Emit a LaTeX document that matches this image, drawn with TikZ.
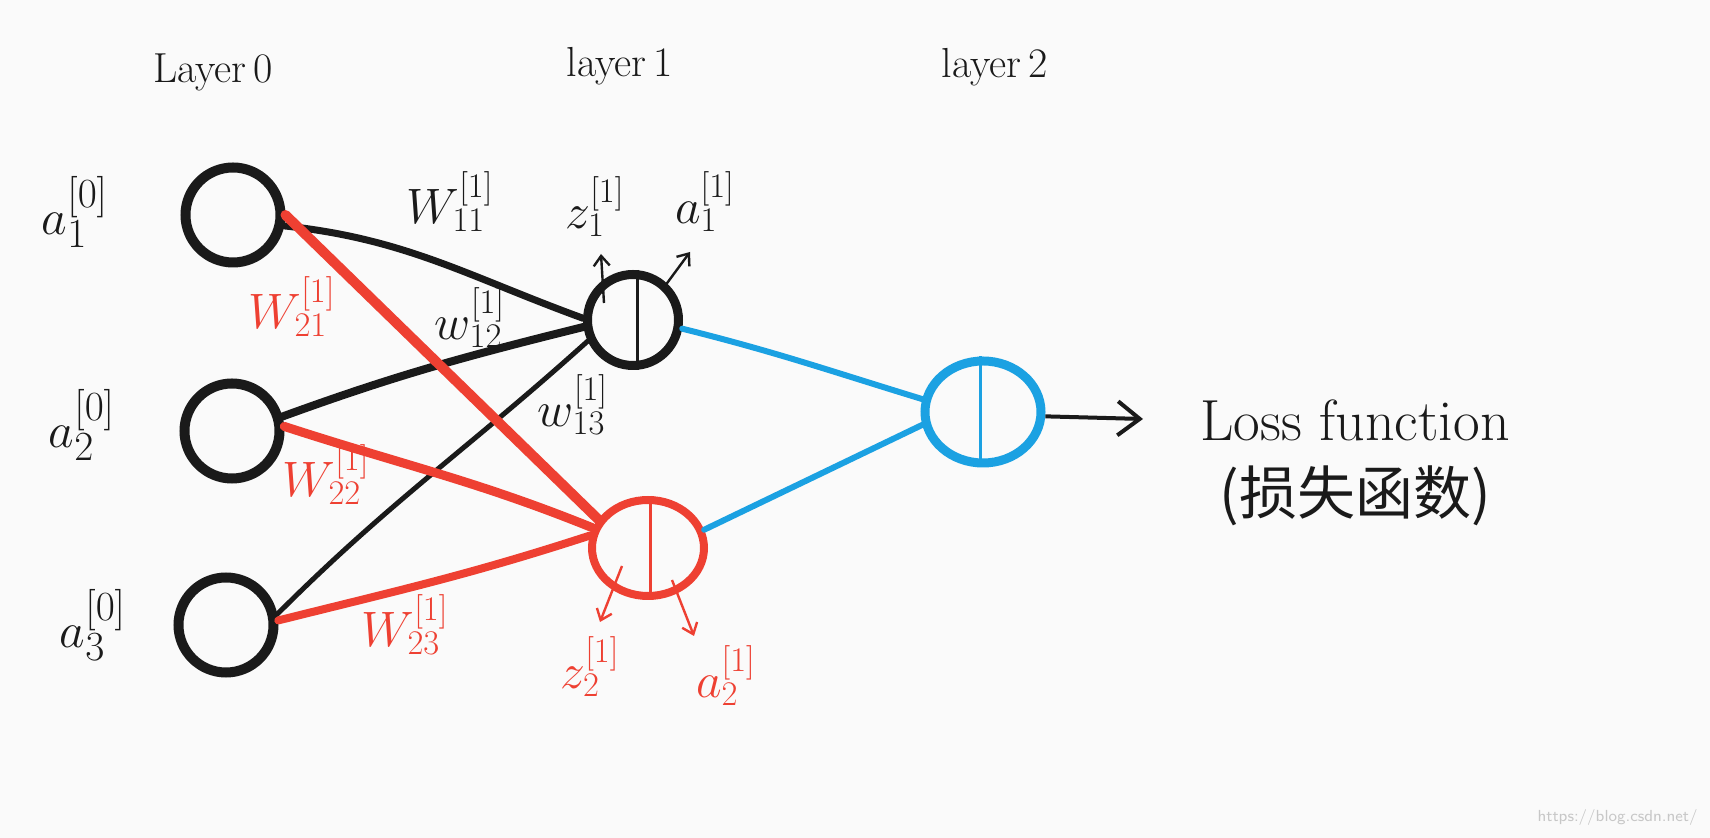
\documentclass[tikz,border=0pt]{standalone}
\usepackage{fontspec}
\newfontfamily\cjk{Noto Sans CJK SC}
\usetikzlibrary{arrows.meta,shapes.geometric}
\definecolor{myred}{HTML}{EE4032}
\definecolor{myblue}{HTML}{1BA1E2}
\definecolor{ink}{HTML}{1A1A1A}
\definecolor{bg}{HTML}{FAFAFA}
\begin{document}
\begin{tikzpicture}[x=0.5pt,y=-0.5pt,
  neuron/.style={circle,draw=ink,line width=5pt,inner sep=0pt,minimum size=47.5pt},
  oval/.style={ellipse,inner sep=0pt,line width=4.5pt},
  lbl/.style={inner sep=0pt,text=ink,font=\fontsize{27}{30}\selectfont},
  rlbl/.style={lbl,text=myred},
  layerlbl/.style={inner sep=0pt,text=ink,font=\fontsize{21}{24}\selectfont},
  kedge/.style={draw=ink,line cap=round},
  redge/.style={draw=myred,line cap=round},
  bedge/.style={draw=myblue,line width=3pt,line cap=round},
  splitline/.style={line width=1.5pt},
  smallarrow/.style={line width=1.2pt,-{Straight Barb[length=5pt,width=8pt]}},
  bigarrow/.style={draw=ink,line width=2pt,-{Straight Barb[length=11pt,width=17pt]}}
]
\fill[bg] (0,0) rectangle (1710,838);
\useasboundingbox (0,0) rectangle (1710,838);

% layer titles
\node[layerlbl] (L0) at (213,72) {Layer\,0};
\node[layerlbl] (L1) at (620,66) {layer\,1};
\node[layerlbl] (L2) at (995,67) {layer\,2};

% neurons
\node[neuron] (i1) at (233,215) {};
\node[neuron] (i2) at (232,431) {};
\node[neuron] (i3) at (226,625) {};
\node[neuron,minimum size=45.5pt,line width=4.5pt] (h1) at (633,320) {};
\node[oval,draw=myred,line width=4pt,minimum width=56pt,minimum height=48pt] (h2) at (648,548) {};
\node[oval,draw=myblue,minimum width=58pt,minimum height=51pt] (o) at (983,412) {};

% split lines inside
\draw[ink,splitline] ([xshift=2pt]h1.north) -- ([xshift=2pt]h1.south);
\draw[myred,splitline] ([xshift=1pt]h2.north) -- ([xshift=1pt]h2.south);
\draw[myblue,splitline] ([xshift=-1.5pt]o.north) -- ([xshift=-1.5pt]o.south);

% black edges to h1
\draw[kedge,line width=3.5pt] (i1.-12) to[out=-6,in=160] (h1.178);
\draw[kedge,line width=4pt] (i2.16) to[out=20,in=194] (h1.188);
\draw[kedge,line width=2.5pt] (i3.12) to[out=45,in=222] (h1.205);

% red edges to h2
\draw[redge,line width=5pt] (i1.0) -- (h2.150);
\draw[redge,line width=4.5pt] (i2.5) to[out=-18,in=158] (h2.160);
\draw[redge,line width=4pt] (i3.5) to[out=14,in=198] (h2.168);

% blue edges to output
\draw[bedge] (h1.-10) to[out=-14,in=163] (o.168);
\draw[bedge] (h2.18) -- (o.192);

% output arrow
\coordinate (ae) at (1143,419);
\draw[bigarrow] (o.-4) -- (ae);

% small arrows on hidden neurons
\coordinate (z1s) at (604,303);
\coordinate (z1e) at (601,254);
\coordinate (a1s) at (662,290);
\coordinate (a1e) at (690,252);
\draw[ink,smallarrow] (z1s) -- (z1e);
\draw[ink,smallarrow] (a1s) -- (a1e);
\coordinate (z2s) at (622,566);
\coordinate (z2e) at (600,622);
\coordinate (a2s) at (672,580);
\coordinate (a2e) at (694,636);
\draw[myred,smallarrow] (z2s) -- (z2e);
\draw[myred,smallarrow] (a2s) -- (a2e);

% input labels
\node[lbl,font=\fontsize{30}{34}\selectfont] (la1) at (75,212) {$a_1^{[0]}$};
\node[lbl,font=\fontsize{30}{34}\selectfont] (la2) at (82,425) {$a_2^{[0]}$};
\node[lbl,font=\fontsize{30}{34}\selectfont] (la3) at (93,625) {$a_3^{[0]}$};

% weight labels
\node[lbl] (w11) at (450,202) {$W_{11}^{[1]}$};
\node[lbl,font=\fontsize{24}{28}\selectfont] (w12) at (470,318) {$w_{12}^{[1]}$};
\node[lbl,font=\fontsize{24}{28}\selectfont] (w13) at (573,405) {$w_{13}^{[1]}$};
\node[rlbl] (w21) at (292,307) {$W_{21}^{[1]}$};
\node[rlbl] (w22) at (326,475) {$W_{22}^{[1]}$};
\node[rlbl] (w23) at (405,625) {$W_{23}^{[1]}$};

% activation labels
\node[lbl] (z1) at (595,207) {$z_1^{[1]}$};
\node[lbl] (a1) at (705,202) {$a_1^{[1]}$};
\node[rlbl] (z2) at (590,667) {$z_2^{[1]}$};
\node[rlbl] (a2) at (726,676) {$a_2^{[1]}$};

% loss text
\node[inner sep=0pt,text=ink,font=\fontsize{29}{32}\selectfont] (loss) at (1355,420) {Loss function};
\node[inner sep=0pt,text=ink,font=\cjk\fontsize{29}{32}\selectfont] (loss2) at (1355,496) {(损失函数)};

% watermark
\node[inner sep=0pt,anchor=east,text=black!22,font=\sffamily\fontsize{8}{10}\selectfont] (wm) at (1698,818) {https://blog.csdn.net/};
\end{tikzpicture}
\end{document}
